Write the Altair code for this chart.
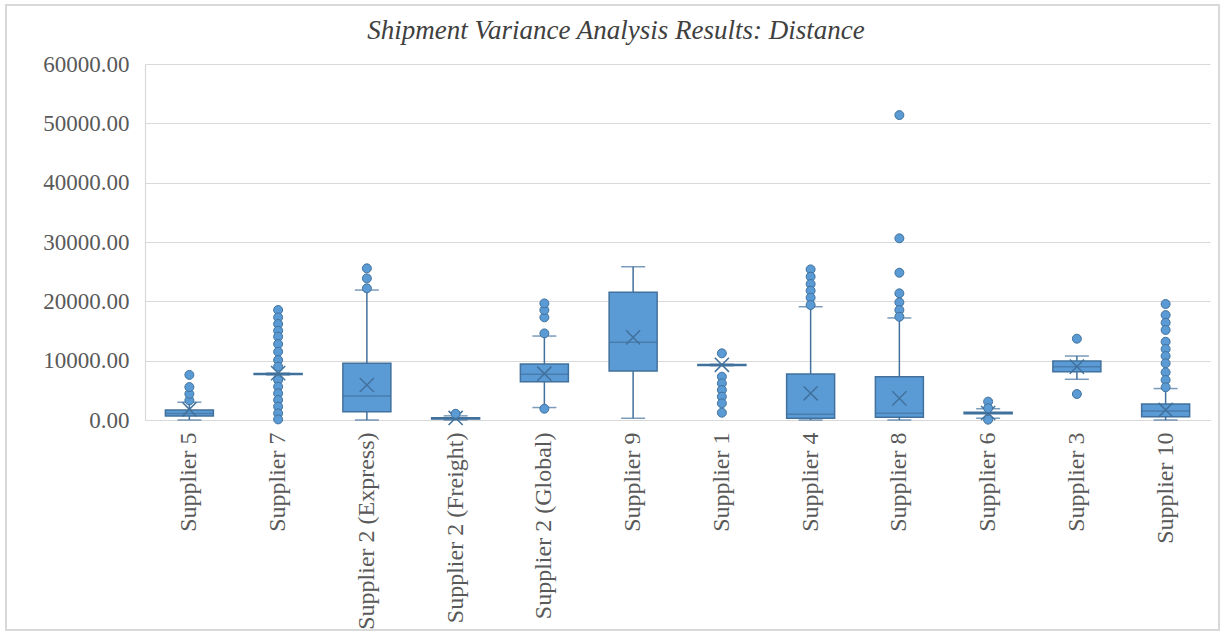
import altair as alt
import pandas as pd

# Summary statistics per carrier (distance)
suppliers = [
    "Supplier 5", "Supplier 7", "Supplier 2 (Express)", "Supplier 2 (Freight)",
    "Supplier 2 (Global)", "Supplier 9", "Supplier 1", "Supplier 4",
    "Supplier 8", "Supplier 6", "Supplier 3", "Supplier 10",
]
q1 = [680, 7650, 1400, 150, 6450, 8260, 9200, 290, 455, 1050, 8140, 560]
median = [1100, 7750, 4040, 250, 7700, 13090, 9270, 960, 1130, 1180, 8990, 1520]
q3 = [1680, 7850, 9550, 400, 9440, 21520, 9350, 7750, 7300, 1300, 9940, 2700]
whisker_lo = [0, 7600, 0, 0, 2100, 290, 9150, 0, 0, 300, 6860, 0]
whisker_hi = [3000, 7900, 21900, 700, 14150, 25830, 9400, 19090, 17200, 1900, 10780, 5300]
means = [1800, 7900, 5900, 350, 7800, 13930, 9300, 4500, 3650, 1180, 8990, 1690]
outliers = [
    [3300, 4400, 5550, 7600],
    [18540, 17300, 16180, 15050, 14040, 12800, 11510, 10110, 8990,
     6740, 5620, 4490, 3370, 2250, 1120, 100],
    [25560, 23870, 22190],
    [1050],
    [14600, 17300, 18530, 19660, 1900],
    [],
    [11240, 7300, 6180, 5060, 3930, 2810, 1230],
    [25390, 24150, 22920, 21790, 20610, 19380],
    [51390, 30620, 24820, 21350, 19830, 18540, 17400],
    [3100, 2000, 50],
    [13700, 4380],
    [19550, 17690, 16390, 15170, 13190, 11960, 10780, 9550, 8040, 6740, 5510],
]
title_text = ["Shipment Variance Analysis Results: Distance"]

stats = pd.DataFrame({
    "supplier": suppliers, "q1": q1, "median": median, "q3": q3,
    "lo": whisker_lo, "hi": whisker_hi, "mean": means,
})
points = pd.DataFrame(
    [{"supplier": s, "value": v} for s, vals in zip(suppliers, outliers) for v in vals]
)

FILL = "#5B9BD5"
EDGE = "#41719C"
GRID = "#D9D9D9"
W, H = 1065, 356

x_enc = alt.X("supplier:N", sort=suppliers, title=None,
              scale=alt.Scale(paddingInner=0, paddingOuter=0))
y_scale = alt.Scale(domain=[0, 60000])

base = alt.Chart(stats)

whiskers = base.mark_rule(color=EDGE, strokeWidth=1.5).encode(
    x=x_enc,
    y=alt.Y("lo:Q", scale=y_scale, title=None,
            axis=alt.Axis(values=[0, 10000, 20000, 30000, 40000, 50000, 60000],
                          format=".2f")),
    y2="hi:Q",
)
cap_lo = base.mark_tick(color=EDGE, size=24, thickness=1.5).encode(
    x=x_enc, y=alt.Y("lo:Q", scale=y_scale))
cap_hi = base.mark_tick(color=EDGE, size=24, thickness=1.5).encode(
    x=x_enc, y=alt.Y("hi:Q", scale=y_scale))
boxes = base.mark_bar(size=48, fill=FILL, stroke=EDGE, strokeWidth=1.5).encode(
    x=x_enc, y=alt.Y("q1:Q", scale=y_scale), y2="q3:Q")
medians = base.mark_tick(color=EDGE, size=48, thickness=1.5).encode(
    x=x_enc, y=alt.Y("median:Q", scale=y_scale))
mean_marks = base.mark_point(
    shape="M-1,-1L1,1M1,-1L-1,1", size=200, filled=False,
    stroke=EDGE, strokeWidth=1.5, opacity=1,
).encode(x=x_enc, y=alt.Y("mean:Q", scale=y_scale))
dots = alt.Chart(points).mark_point(
    shape="circle", size=80, filled=True, fill=FILL, stroke=EDGE,
    strokeWidth=1, opacity=1,
).encode(x=x_enc, y=alt.Y("value:Q", scale=y_scale))

# Light frame around the whole chart area
frame = alt.Chart(stats).mark_rect(fill=None, stroke=GRID, strokeWidth=1.5).encode(
    x=alt.value(-139), x2=alt.value(1074), y=alt.value(-59), y2=alt.value(566))

# Chart heading, placed above the plot area
heading = alt.Chart(pd.DataFrame({"t": title_text})).mark_text(
    font="Liberation Serif", fontStyle="italic", fontSize=27,
    color="#404040", align="center", baseline="middle",
).encode(text="t:N", x=alt.value(471), y=alt.value(-33))

chart = alt.layer(
    frame, whiskers, cap_lo, cap_hi, boxes, medians, mean_marks, dots, heading
).properties(
    width=W, height=H,
    autosize=alt.AutoSizeParams(type="none"),
    padding={"left": 145, "top": 64, "right": 15, "bottom": 215},
).configure_view(stroke=None).configure_axis(
    gridColor=GRID, gridWidth=1.2, domainColor=GRID, domainWidth=1.2,
    ticks=False, labelFont="Liberation Serif", labelColor="#595959",
).configure_axisY(
    labelFontSize=23, labelPadding=16, domain=True,
).configure_axisX(
    labelFontSize=24, labelAngle=-90, labelPadding=12, grid=False,
    labelLimit=300,
)

chart.save("out.html", embed_options={"renderer": "svg", "actions": False})
